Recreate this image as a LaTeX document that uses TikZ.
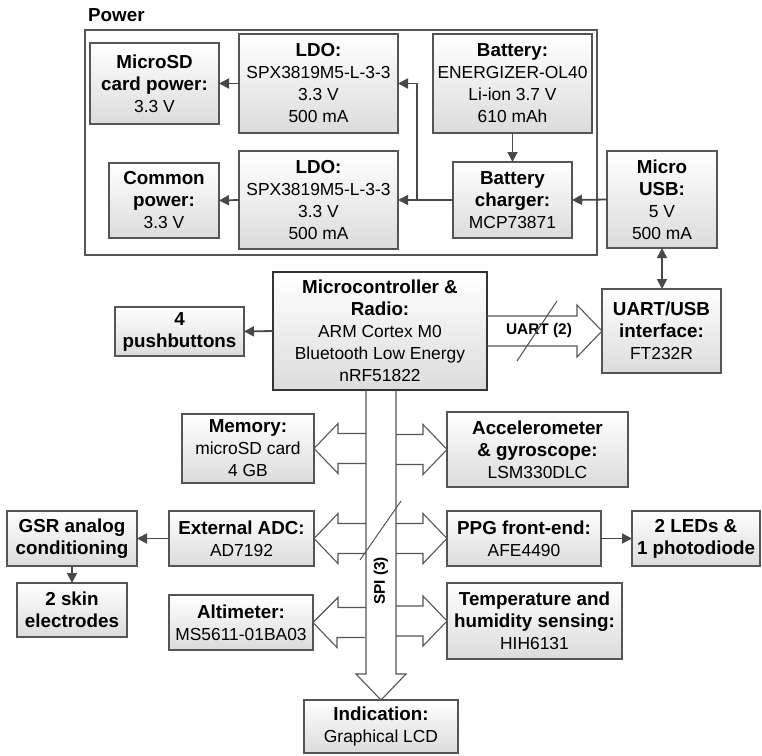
\documentclass[tikz,border=0pt]{standalone}
\usepackage{fontspec}
\setmainfont{Liberation Sans}
\usetikzlibrary{fit,arrows.meta,calc}
\newcommand\bfnt{\fontsize{18.8}{22}\selectfont\bfseries}
\newcommand\rgfnt{\fontsize{17.4}{22}\selectfont\mdseries}
\definecolor{edge}{HTML}{555555}
\definecolor{arrc}{HTML}{484848}
\tikzset{
 box/.style={draw=edge, line width=1.1pt, top color=white, bottom color=black!14, inner sep=0pt, outer sep=0pt},
 mcubox/.style={box, draw=black!80, line width=2.4pt},
 txt/.style={align=center, font=\rgfnt, inner sep=0pt, outer sep=0pt, anchor=center},
 arr/.style={draw=arrc, line width=1.8pt, -{Triangle[length=10pt,width=10pt]}},
 darr/.style={draw=arrc, line width=1.8pt, {Triangle[length=10pt,width=10pt]}-{Triangle[length=10pt,width=10pt]}},
 blk/.style={draw=edge, line width=1.1pt, line join=miter},
 slash/.style={draw=edge, line width=1pt},
 frame/.style={draw=edge, line width=1.1pt, inner sep=0pt, outer sep=0pt},
 lbl/.style={font=\fontsize{15.4}{18}\selectfont\bfseries, inner sep=0pt},
}
\newcommand\bxx[4][box]{\node[#1, fit={#3}] (#2) {}; \node[txt] (#2t) at (#2.center) {#4};}
\begin{document}
\begin{tikzpicture}[x=1pt,y=-1pt]
\useasboundingbox (0,0) rectangle (762,755);
% Power frame
\node[frame, fit={(85,30)(597,255)}] (pwr) {};
\node[anchor=west, font=\bfnt, inner sep=0pt] (pwrl) at (88,15) {Power};
% boxes
\bxx{sdp}{(90,43)(219,124)}{\bfnt MicroSD\\\bfnt card power:\\3.3 V}
\bxx{ldoa}{(239,34)(398,133)}{\bfnt LDO:\\SPX3819M5-L-3-3\\3.3 V\\500 mA}
\bxx{bat}{(433,34)(592,133)}{\bfnt Battery:\\ENERGIZER-OL40\\Li-ion 3.7 V\\610 mAh}
\bxx{cmp}{(109,163)(219,238)}{\bfnt Common\\\bfnt power:\\3.3 V}
\bxx{ldob}{(239,151)(398,249)}{\bfnt LDO:\\SPX3819M5-L-3-3\\3.3 V\\500 mA}
\bxx{chg}{(453,162)(572,238)}{\bfnt Battery\\\bfnt charger:\\MCP73871}
\bxx{usb}{(607,151)(717,248)}{\bfnt Micro\\\bfnt USB:\\5 V\\500 mA}
\bxx{uart}{(602,289)(721,373)}{\bfnt UART/USB\\\bfnt interface:\\FT232R}
\bxx[mcubox]{mcu}{(273,272)(487,390)}{\bfnt Microcontroller \&\\\bfnt Radio:\\ARM Cortex M0\\Bluetooth Low Energy\\nRF51822}
\bxx{pb}{(115,307)(244,356)}{\bfnt 4\\\bfnt pushbuttons}
\bxx{mem}{(182,414)(314,483)}{\bfnt Memory:\\microSD card\\4 GB}
\bxx{acc}{(447,412)(628,487)}{\bfnt Accelerometer\\\bfnt \& gyroscope:\\LSM330DLC}
\bxx{adc}{(169,511)(314,566)}{\bfnt External ADC:\\AD7192}
\bxx{ppg}{(447,511)(601,566)}{\bfnt PPG front-end:\\AFE4490}
\bxx{gsr}{(7,511)(137,566)}{\bfnt GSR analog\\\bfnt conditioning}
\bxx{skin}{(17,583)(127,637)}{\bfnt 2 skin\\\bfnt electrodes}
\bxx{leds}{(632,511)(760,566)}{\bfnt 2 LEDs \&\\\bfnt 1 photodiode}
\bxx{alt}{(169,595)(313,650)}{\bfnt Altimeter:\\MS5611-01BA03}
\bxx{tmp}{(447,583)(622,659)}{\bfnt Temperature and\\\bfnt humidity sensing:\\HIH6131}
\bxx{ind}{(304,700)(458,753)}{\bfnt Indication:\\Graphical LCD}
% small arrows
\coordinate (j) at (417,0);
\draw[arr] (ldoa.west) -- (sdp.east);
\draw[arr] (ldob.west) -- (cmp.east);
\draw[arr] (bat.south) -- (chg.north);
\draw[arr] (usb.west) -- (chg.east);
\draw[arr] (chg.west) -- (ldob.east);
\draw[arr] (j |- chg.west) |- (ldoa.east);
\draw[darr] (usb.south) -- (usb.south |- uart.north);
\draw[arr] (mcu.west) -- (pb.east);
\draw[arr] (adc.west) -- (gsr.east);
\draw[arr] (gsr.south) -- (skin.north);
\draw[arr] (ppg.east) -- (leds.west);
% SPI bus
\coordinate (BL) at (366,0);
\coordinate (BR) at (396,0);
\coordinate (BH) at (0,674);
\draw[blk] (BL |- mcu.south) -- (BL |- BH) -- ++(-10,0) -- (ind.north) -- ($(BR |- BH)+(10,0)$) -- (BR |- BH) -- (BR |- mcu.south);
\foreach \n in {mem,adc,alt}{
  \draw[blk] ($(BL |- \n.east)+(0,-15)$) -- ++(-28,0) -- ++(0,-10) -- (\n.east) -- ++(24,25) -- ++(0,-10) -- ++(28,0);
}
\foreach \n in {acc,ppg,tmp}{
  \draw[blk] ($(BR |- \n.west)+(0,-15)$) -- ++(27,0) -- ++(0,-10) -- (\n.west) -- ++(-24,25) -- ++(0,-10) -- ++(-27,0);
}
\node[lbl, rotate=90] (spil) at (381,581) {SPI (3)};
\draw[slash] (360,560) -- (401,501);
% UART bus
\draw[blk] ($(mcu.east)+(0,-15)$) -- ++(90,0) -- ++(0,-11) -- (uart.west) -- ++(-25,26) -- ++(0,-11) -- ++(-90,0);
\node[lbl] (uartl) at (539,331) {UART (2)};
\draw[slash] (517,361) -- (557,301);
\end{tikzpicture}
\end{document}
